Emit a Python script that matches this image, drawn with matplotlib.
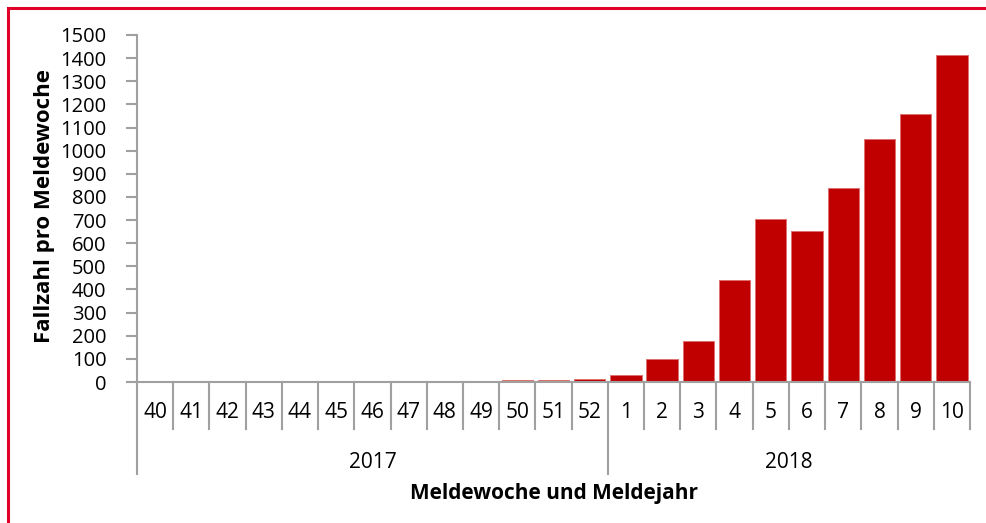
import matplotlib
matplotlib.use("Agg")
import matplotlib.pyplot as plt
import matplotlib.transforms as mtransforms
from matplotlib.patches import Rectangle

weeks = ["40", "41", "42", "43", "44", "45", "46", "47", "48", "49", "50", "51", "52",
         "1", "2", "3", "4", "5", "6", "7", "8", "9", "10"]
years = ["2017", "2018"]
year_counts = [13, 10]
cases = [1, 1, 1, 1, 1, 1, 1, 1, 1, 1, 8, 8, 14,
         30, 99, 177, 441, 704, 652, 839, 1050, 1157, 1414]
yticks = list(range(0, 1501, 100))

plt.rcParams['font.family'] = ['Open Sans', 'DejaVu Sans']

W, H = 986, 523
fig = plt.figure(figsize=(W / 100, H / 100), dpi=100)
ax = fig.add_axes([137 / W, 1 - 382 / H, (970 - 137) / W, 347 / H])

grey = '#A0A0A0'
x = list(range(len(weeks)))
ax.bar(x, cases, width=0.865, color='#C00000', edgecolor='#E07070', linewidth=0.7, zorder=2)
ax.set_xlim(-0.5, len(weeks) - 0.5)
ax.set_ylim(0, 1500)
ax.set_yticks(yticks)
ax.set_yticklabels([str(v) for v in yticks], fontsize=14.5, color='#000000')
ax.tick_params(axis='y', direction='out', length=8, width=1.5, color=grey, pad=14)
ax.tick_params(axis='x', bottom=False, labelbottom=False)
for s in ['top', 'right']:
    ax.spines[s].set_visible(False)
ax.spines['left'].set_color(grey)
ax.spines['left'].set_linewidth(1.5)
ax.spines['bottom'].set_color(grey)
ax.spines['bottom'].set_linewidth(1.5)

trans = mtransforms.blended_transform_factory(ax.transData, ax.transAxes)
wk_low = -47 / 347
yr_low = -92 / 347
year_bounds = [-0.5]
acc = -0.5
for c in year_counts:
    acc += c
    year_bounds.append(acc)
for i in range(len(weeks) + 1):
    xs = i - 0.5
    low = yr_low if (xs in year_bounds[:-1]) else wk_low
    ax.plot([xs, xs], [0, low], transform=trans, color=grey, lw=1.5, clip_on=False)
for i, w in enumerate(weeks):
    ax.text(i, -31 / 347, w, transform=trans, ha='center', va='center', fontsize=15)
for j, yname in enumerate(years):
    cx = (year_bounds[j] + year_bounds[j + 1]) / 2
    ax.text(cx, -81 / 347, yname, transform=trans, ha='center', va='center', fontsize=15)

ax.text(0.5, -111 / 347, "Meldewoche und Meldejahr", transform=ax.transAxes,
        ha='center', va='center', fontsize=15, fontweight='bold')
fig.text(45 / W, 1 - 206 / H, "Fallzahl pro Meldewoche", rotation=90,
         ha='center', va='center', fontsize=16, fontweight='bold')

fig.patches.append(Rectangle((8 / W, -0.1), 1.2, 1 - 8 / H + 0.1, transform=fig.transFigure,
                             fill=False, edgecolor='#E0002A', linewidth=2.2))

fig.savefig("out.png", dpi=100)
